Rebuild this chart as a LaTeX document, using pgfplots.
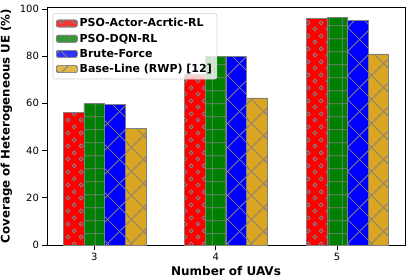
\documentclass[border=0pt]{standalone}
\usepackage{fontspec}
\setmainfont{DejaVu Sans}
\usepackage{pgfplots}
\pgfplotsset{compat=1.18}
\usetikzlibrary{patterns.meta}
\definecolor{mygold}{HTML}{DAA520}
\definecolor{mygreen}{HTML}{008000}

\tikzdeclarepattern{
  name=hcircles, type=uncolored,
  bounding box={(0pt,0pt) and (13pt,13pt)},
  tile size={(13pt,13pt)},
  code={
    \draw[line width=1pt] (3.25pt,3.25pt) circle[radius=2.1pt];
    \draw[line width=1pt] (9.75pt,9.75pt) circle[radius=2.1pt];
  }
}
\tikzdeclarepattern{
  name=hgrid, type=uncolored,
  bounding box={(0pt,0pt) and (12.7pt,12.7pt)},
  tile size={(12.7pt,12.7pt)},
  code={
    \draw[line width=0.9pt] (-1pt,6.35pt) -- (13.7pt,6.35pt);
    \draw[line width=0.9pt] (6.35pt,-1pt) -- (6.35pt,13.7pt);
  }
}
\tikzdeclarepattern{
  name=hcross, type=uncolored,
  bounding box={(0pt,0pt) and (24pt,24pt)},
  tile size={(24pt,24pt)},
  code={
    \draw[line width=0.9pt] (-1pt,-1pt) -- (25pt,25pt);
    \draw[line width=0.9pt] (-1pt,25pt) -- (25pt,-1pt);
  }
}

\pgfplotsset{
  mybar/.style={ybar, bar width=0.17, draw=gray, line width=0.6pt,
    legend image code/.code={\draw[##1] (0pt,-3.5pt) rectangle (21pt,3.5pt);}},
}

\begin{document}
\begin{tikzpicture}
\begin{axis}[
  name=ax, at={(0,0)}, anchor=south west,
  scale only axis, width=358pt, height=238pt,
  xmin=2.611, xmax=5.559, ymin=0, ymax=100.8,
  xtick={3,4,5}, ytick={0,20,40,60,80,100},
  tick align=outside, tick pos=left, major tick length=4.5pt,
  tick style={black, line width=0.6pt},
  axis line style={line width=0.6pt},
  ticklabel style={font=\fontsize{10}{11}\selectfont},
  /pgf/number format/assume math mode=true,
  xlabel={Number of UAVs},
  ylabel={Coverage of Heterogeneous UE (\%)},
  every axis x label/.style={at={(axis description cs:0.5,0)}, yshift=-26.3pt, anchor=center,
    font=\fontsize{12}{14}\selectfont\bfseries},
  every axis y label/.style={at={(axis description cs:0,0.5)}, xshift=-40.5pt, rotate=90, anchor=center,
    font=\fontsize{11.8}{14}\selectfont\bfseries},
  legend style={at={(0.016,0.9735)}, anchor=north west, draw=gray!35, rounded corners=2pt,
    fill=white, fill opacity=0.8, text opacity=1, line width=0.6pt,
    font=\fontsize{11}{13}\selectfont\bfseries, row sep=1.5pt, inner sep=3pt},
  legend cell align=left,
]
\addplot[mybar, bar shift=-0.17, fill=red, postaction={pattern=hcircles, pattern color=gray}]
  coordinates {(3,56.2) (4,72.5) (5,96.0)};
\addlegendentry{PSO-Actor-Acrtic-RL}
\addplot[mybar, bar shift=0, fill=mygreen, postaction={pattern=hgrid, pattern color=gray}]
  coordinates {(3,60.0) (4,80.0) (5,96.4)};
\addlegendentry{PSO-DQN-RL}
\addplot[mybar, bar shift=0.17, fill=blue, postaction={pattern=hcross, pattern color=gray}]
  coordinates {(3,59.6) (4,80.0) (5,95.2)};
\addlegendentry{Brute-Force}
\addplot[mybar, bar shift=0.34, fill=mygold, postaction={pattern=hcross, pattern color=gray}]
  coordinates {(3,49.5) (4,62.3) (5,80.9)};
\addlegendentry{Base-Line (RWP) [12]}
\end{axis}
\pgfresetboundingbox
\path (ax.south west) ++(-47pt,-33pt) rectangle ++(406pt,278pt);
\end{tikzpicture}
\end{document}
